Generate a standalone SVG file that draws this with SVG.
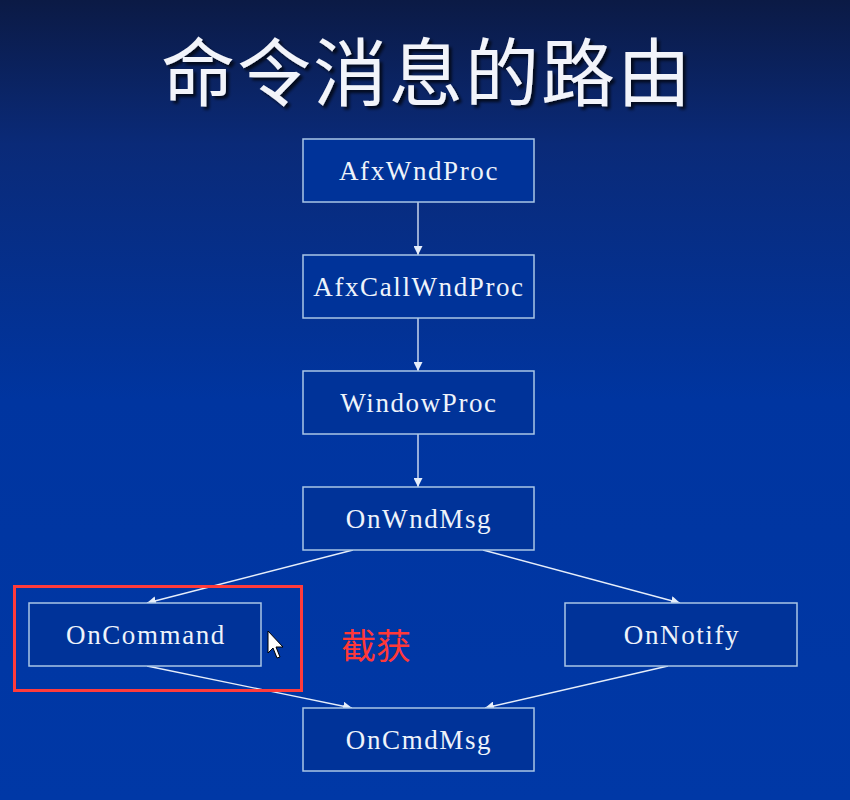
<svg xmlns="http://www.w3.org/2000/svg" width="850" height="800" viewBox="0 0 850 800">
<defs>
<linearGradient id="bg" x1="0" y1="0" x2="0" y2="1">
<stop offset="0" stop-color="#0b1a45"/>
<stop offset="0.18" stop-color="#0a2a78"/>
<stop offset="0.5" stop-color="#0035a0"/>
<stop offset="1" stop-color="#0038a6"/>
</linearGradient>
<filter id="sh" x="-10%" y="-10%" width="120%" height="130%">
<feDropShadow dx="3" dy="3" stdDeviation="1.5" flood-color="#000000" flood-opacity="0.7"/>
</filter>
<marker id="ah" viewBox="0 0 10 10" refX="10" refY="5" markerWidth="9" markerHeight="9" markerUnits="userSpaceOnUse" orient="auto">
<path d="M0,0 L10,5 L0,10 z" fill="#e6eefa"/>
</marker>
<style>
.box{fill:#003399;stroke:#a9c6e6;stroke-width:1.5}
.lbl{font-family:"Liberation Serif","Times New Roman",serif;font-size:27px;letter-spacing:1.6px;fill:#eef3fb;text-anchor:middle}
.con{stroke:#e6eefa;stroke-width:1.3;fill:none;marker-end:url(#ah)}
</style>
</defs>
<rect width="850" height="800" fill="url(#bg)"/>
<text x="427" y="100" font-family="'Noto Sans CJK SC','Noto Sans CJK JP',sans-serif" font-size="74" fill="#f2f4fa" text-anchor="middle" letter-spacing="2" filter="url(#sh)">命令消息的路由</text>
<g id="connectors">
<line class="con" x1="418" y1="202" x2="418" y2="255"/>
<line class="con" x1="418" y1="318" x2="418" y2="371"/>
<line class="con" x1="418" y1="434" x2="418" y2="487"/>
<line class="con" x1="353" y1="550" x2="147" y2="603"/>
<line class="con" x1="483" y1="550" x2="680" y2="603"/>
<line class="con" x1="147" y1="666" x2="352" y2="708"/>
<line class="con" x1="668" y1="666" x2="485" y2="708"/>
</g>
<g id="AfxWndProc"><rect class="box" x="303" y="139" width="231" height="63"/><text class="lbl" x="419" y="180">AfxWndProc</text></g>
<g id="AfxCallWndProc"><rect class="box" x="303" y="255" width="231" height="63"/><text class="lbl" x="419" y="296">AfxCallWndProc</text></g>
<g id="WindowProc"><rect class="box" x="303" y="371" width="231" height="63"/><text class="lbl" x="419" y="412">WindowProc</text></g>
<g id="OnWndMsg"><rect class="box" x="303" y="487" width="231" height="63"/><text class="lbl" x="419" y="528">OnWndMsg</text></g>
<g id="OnCommand"><rect class="box" x="29" y="603" width="232" height="63"/><text class="lbl" x="146" y="644">OnCommand</text></g>
<g id="OnNotify"><rect class="box" x="565" y="603" width="232" height="63"/><text class="lbl" x="682" y="644">OnNotify</text></g>
<g id="OnCmdMsg"><rect class="box" x="303" y="708" width="231" height="63"/><text class="lbl" x="419" y="749">OnCmdMsg</text></g>
<rect x="14.5" y="586.5" width="287" height="104" fill="none" stroke="#ff3b3b" stroke-width="3"/>
<text x="341" y="659" font-family="'Noto Sans CJK SC',sans-serif" font-size="35" fill="#ff3838">截获</text>
<path d="M268,631 L268,653 L273,648 L277,658 L280,657 L276,647 L283,647 Z" fill="#ffffff" stroke="#000000" stroke-width="1"/>
</svg>
